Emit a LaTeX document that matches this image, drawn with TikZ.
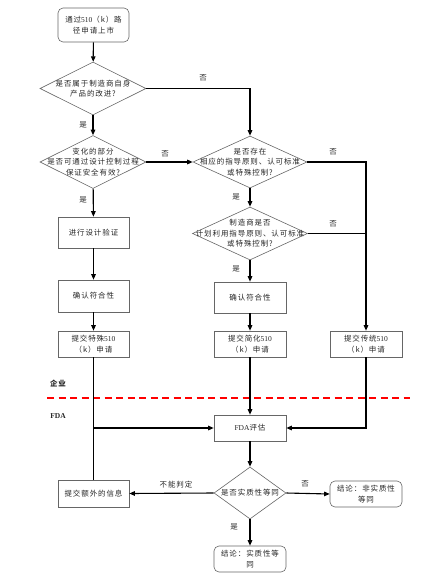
\documentclass[tikz,border=0pt]{standalone}
\usepackage{fontspec}
\setmainfont{Noto Sans CJK SC}[LetterSpace=12]
\newfontfamily\lat{Liberation Serif}
\usetikzlibrary{shapes.geometric,arrows.meta}
\begin{document}
\begin{tikzpicture}[x=1pt,y=-1pt,
  every node/.style={font=\fontsize{7.5}{10.5}\selectfont, text=black!85},
  box/.style={draw=black!60, line width=0.6pt, rectangle, minimum width=71pt, minimum height=26pt, inner sep=1pt, align=center},
  rbox/.style={box, rounded corners=5pt},
  dia/.style={draw=black!60, line width=0.6pt, diamond, inner sep=0pt},
  conn/.style={line width=1.1pt, black},
  arr/.style={conn, -{Triangle[length=5.5pt,width=4.5pt]}},
  lbl/.style={inner sep=0pt}
]
\useasboundingbox (0,0) rectangle (431,588);

% nodes
\node[rbox, minimum height=34pt] (start) at (93.5,25) {通过{\lat 510}（k）路\\径申请上市};
\node[dia, minimum width=106pt, minimum height=53pt,
  label={[align=center,inner sep=0pt]center:是否属于制造商自身\\产品的改进?}] (d1) at (93,88.5) {};
\node[dia, minimum width=106pt, minimum height=53pt,
  label={[align=center,inner sep=0pt]center:变化的部分\\是否可通过设计控制过程\\保证安全有效?}] (d2) at (93,162) {};
\node[dia, minimum width=114pt, minimum height=52pt,
  label={[align=center,inner sep=0pt]center:是否存在\\相应的指导原则、认可标准\\或特殊控制?}] (d3) at (250,162) {};
\node[dia, minimum width=115pt, minimum height=53pt,
  label={[align=center,inner sep=0pt]center:制造商是否\\计划利用指导原则、认可标准\\或特殊控制?}] (d4) at (250,233.5) {};

\node[box, minimum height=31pt] (design) at (93.5,232.5) {进行设计验证};
\node[box, minimum height=32pt] (confL) at (93.5,296) {确认符合性};
\node[box, minimum width=72pt, minimum height=31pt] (confM) at (250,297.5) {确认符合性};
\node[box] (subL) at (93.5,344) {提交特殊{\lat 510}\\（k）申请};
\node[box, minimum width=72pt] (subM) at (250,344) {提交简化{\lat 510}\\（k）申请};
\node[box, minimum width=72pt] (subR) at (366,344) {提交传统{\lat 510}\\（k）申请};

\node[box, minimum width=72pt] (fda) at (250,428) {{\lat FDA}评估};
\node[dia, minimum width=72pt, minimum height=52pt,
  label={[inner sep=0pt]center:是否实质性等同}] (d5) at (250,493) {};
\node[box, minimum height=27pt] (extra) at (93.5,493.5) {提交额外的信息};
\node[rbox, minimum width=72pt] (noneq) at (366,494) {结论：非实质性\\等同};
\node[rbox, minimum width=72pt] (eq) at (250,559) {结论：实质性等\\同};

% labels
\node[lbl] (n1) at (203,78) {否};
\node[lbl] (y1) at (83,125) {是};
\node[lbl] (n2) at (165,154) {否};
\node[lbl] (y2) at (83,200) {是};
\node[lbl] (n3) at (333,152) {否};
\node[lbl] (y3) at (236,197) {是};
\node[lbl] (n4) at (333,224) {否};
\node[lbl] (y4) at (236,269) {是};
\node[lbl] (cant) at (176,485) {不能判定};
\node[lbl] (n5) at (305,484) {否};
\node[lbl] (y5) at (234,527) {是};
\node[lbl, font=\lat\bfseries\fontsize{7.5}{9}\selectfont] (fdalbl) at (58,416) {FDA};
\node[lbl, font=\bfseries\fontsize{7.5}{9}\selectfont] (ent) at (58,384) {企业};

% divider
\coordinate (dl) at (47,398);
\coordinate (dr) at (410,398);
\draw[red, line width=1.1pt, dash pattern=on 7pt off 4.5pt] (dl) -- (dr);

% connectors
\draw[arr] (start) -- (d1);
\draw[arr] (d1) -- (d2);
\draw[arr] (d1.east) -| (d3.north);
\draw[arr] (d2.east) -- (d3.west);
\draw[arr] (d2) -- (design);
\draw[arr] (design) -- (confL);
\draw[arr] (confL) -- (subL);
\draw[arr] (d3) -- (d4);
\draw[arr] (d3.east) -| (subR.north);
\draw[conn] (d4.east) -- (d4.east -| subR.north);
\draw[arr] (d4) -- (confM);
\draw[arr] (confM) -- (subM);
\draw[arr] (subM) -- (fda);
\draw[arr] (subL.south) |- (fda.west);
\draw[arr] (subR.south) |- (fda.east);
\draw[conn] (extra.north) -- (extra.north |- fda.west);
\draw[arr] (fda) -- (d5);
\draw[arr] (d5.west) -- (extra.east);
\draw[arr] (d5.east) -- (noneq.west);
\draw[arr] (d5.south) -- (eq.north);
\end{tikzpicture}
\end{document}
